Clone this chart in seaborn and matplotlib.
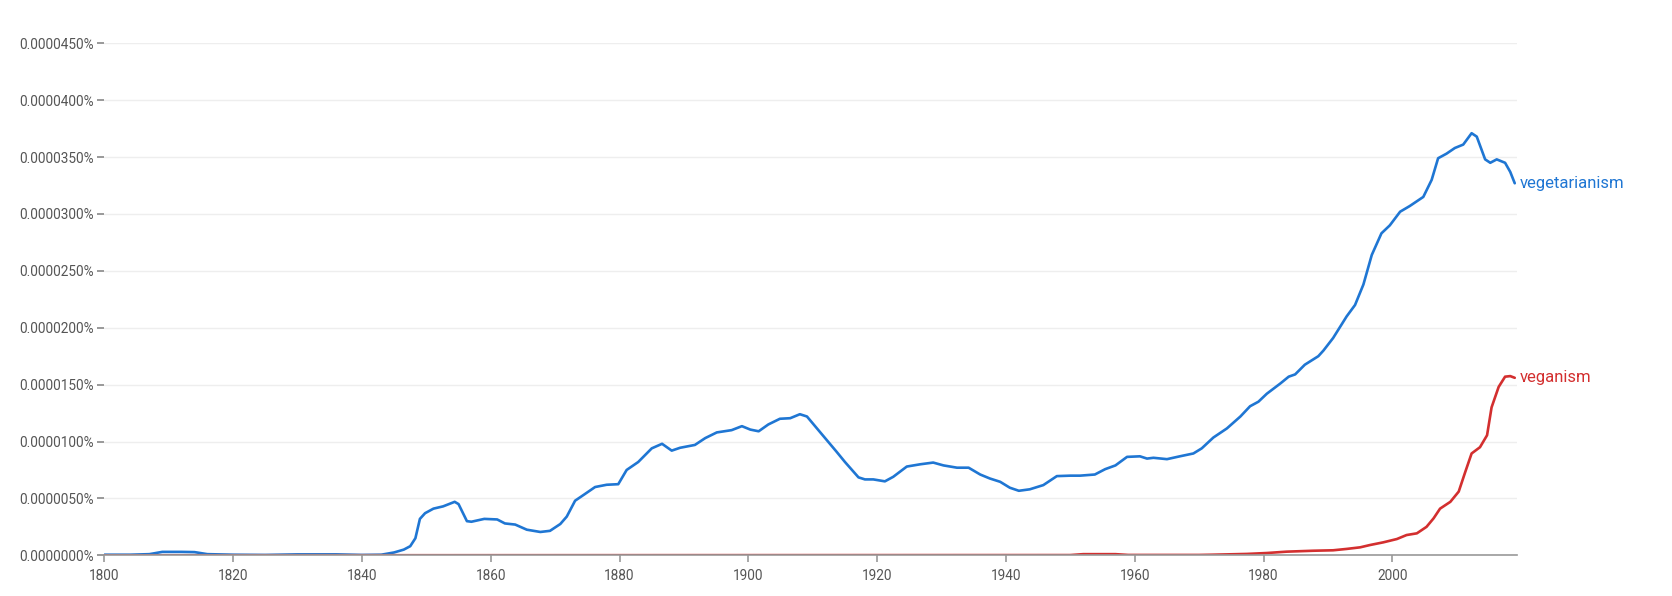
import numpy as np
import pandas as pd
import matplotlib
matplotlib.use("Agg")
from matplotlib import pyplot as plt
from matplotlib.ticker import FuncFormatter, MultipleLocator
import seaborn as sns

# values, in units of 1e-6 percent
veg_years = [1800, 1804, 1807, 1809, 1812, 1814, 1816, 1820, 1825, 1830, 1836, 1840,
             1843, 1845, 1846.5, 1847.5, 1848.3, 1849, 1849.8, 1851.1, 1852.6, 1854.4,
             1855, 1856.3, 1857, 1859, 1861, 1862.2, 1863.8, 1865.6, 1867.7, 1869.2,
             1870.8, 1871.8, 1873.1, 1874.4, 1876.2, 1878, 1879.8, 1881.1, 1882.9, 1885,
             1886.6, 1888.1, 1889.4, 1891.7, 1893.3, 1895.1, 1897.4, 1899, 1900.3, 1901.6,
             1903.1, 1904.9, 1906.5, 1908, 1909.1, 1911.1, 1913.7, 1915, 1917.1, 1918.1,
             1919.4, 1921.2, 1922.5, 1924.6, 1926.7, 1928.7, 1930.3, 1932.4, 1934.2, 1936,
             1937.5, 1939.1, 1940.6, 1942, 1943.7, 1945.8, 1947.9, 1950, 1951.5, 1953.8,
             1955.4, 1957, 1958.8, 1960.8, 1961.9, 1962.9, 1965, 1967, 1969.1, 1970.4,
             1972.2, 1974.3, 1976.4, 1977.9, 1979.2, 1980.5, 1982.6, 1983.9, 1984.9, 1986.4,
             1988.5, 1989.3, 1990.8, 1992.9, 1994.2, 1995.5, 1996.8, 1998.3, 1999.6, 2001.2,
             2002.7, 2004.8, 2006.1, 2007.1, 2008.4, 2009.7, 2011, 2012.3, 2013.1, 2014.4,
             2015.2, 2016.2, 2017.5, 2018.3, 2019]
veg_values = [0.05, 0.05, 0.1, 0.3, 0.3, 0.28, 0.1, 0.05, 0.03, 0.08, 0.08, 0.03,
              0.05, 0.25, 0.5, 0.8, 1.5, 3.2, 3.7, 4.1, 4.3, 4.7,
              4.5, 3.0, 2.95, 3.2, 3.15, 2.8, 2.7, 2.25, 2.05, 2.15,
              2.75, 3.4, 4.8, 5.3, 6.0, 6.2, 6.25, 7.5, 8.2, 9.4,
              9.8, 9.2, 9.45, 9.7, 10.3, 10.8, 11.0, 11.35, 11.05, 10.9,
              11.5, 12.0, 12.05, 12.4, 12.2, 10.85, 9.1, 8.2, 6.85, 6.67,
              6.67, 6.5, 6.9, 7.8, 8.0, 8.15, 7.9, 7.7, 7.7, 7.1,
              6.75, 6.46, 5.94, 5.67, 5.8, 6.17, 6.96, 7.0, 7.0, 7.1,
              7.57, 7.9, 8.65, 8.7, 8.5, 8.57, 8.45, 8.7, 8.95, 9.4,
              10.35, 11.15, 12.2, 13.1, 13.5, 14.2, 15.1, 15.7, 15.9, 16.75,
              17.5, 18.0, 19.1, 21.0, 22.0, 23.8, 26.4, 28.3, 29.0, 30.2,
              30.7, 31.5, 33.0, 34.9, 35.3, 35.8, 36.1, 37.1, 36.8, 34.8,
              34.5, 34.8, 34.5, 33.7, 32.7]

vegan_years = [1800, 1950, 1952, 1957, 1959, 1970, 1972, 1977.4, 1980.5, 1983.6, 1987.7,
               1990.8, 1992.9, 1995, 1996.5, 1998.6, 2000.7, 2002.2, 2003.8, 2005.3,
               2006.4, 2007.4, 2009, 2010.3, 2011.3, 2012.3, 2013.6, 2014.7, 2015.4,
               2016.5, 2017.5, 2018.3, 2019]
vegan_values = [0, 0.02, 0.1, 0.1, 0.03, 0.03, 0.05, 0.12, 0.2, 0.32, 0.4,
                0.44, 0.56, 0.7, 0.9, 1.14, 1.43, 1.78, 1.93, 2.5,
                3.25, 4.1, 4.7, 5.6, 7.3, 8.95, 9.5, 10.55, 13.0,
                14.8, 15.7, 15.75, 15.6]

x_ticks = [1800, 1820, 1840, 1860, 1880, 1900, 1920, 1940, 1960, 1980, 2000]
series = [("vegetarianism", veg_years, veg_values, "#1f76d3"),
          ("veganism", vegan_years, vegan_values, "#d32f2f")]

sns.set_theme(style="white")
plt.rcParams['font.family'] = ['Roboto', 'DejaVu Sans']

fig = plt.figure(figsize=(16.72, 5.96), dpi=100)
ax = fig.add_axes([0.0624, 0.0683, 0.9073 - 0.0624, 0.9273 - 0.0683])

for name, yrs, vals, col in series:
    df = pd.DataFrame({"year": yrs, "pct": np.array(vals) * 1e-6})
    sns.lineplot(data=df, x="year", y="pct", color=col, linewidth=1.9, ax=ax,
                 solid_joinstyle="round", solid_capstyle="round")
    ax.text(yrs[-1] + 0.7, df["pct"].iloc[-1], name, color=col, fontsize=12,
            ha="left", va="center")

ax.set_xlim(1800, 2019.35)
ax.set_ylim(0, 45e-6)
ax.set_xticks(x_ticks)
ax.yaxis.set_major_locator(MultipleLocator(5e-6))
ax.yaxis.set_major_formatter(FuncFormatter(lambda v, p: f"{v:.7f}%"))
ax.set_xlabel("")
ax.set_ylabel("")

ax.grid(axis="y", color="#eeeeee", linewidth=1)
ax.grid(axis="x", visible=False)
for s in ["top", "right", "left"]:
    ax.spines[s].set_visible(False)
ax.spines["bottom"].set_color("#999999")
ax.spines["bottom"].set_linewidth(1.2)
ax.tick_params(axis="y", which="major", left=True, length=5, width=1.2,
               color="#888888", labelcolor="#555555", labelsize=9.8, pad=2.5)
ax.tick_params(axis="x", which="major", bottom=True, length=5, width=1.2,
               color="#999999", labelcolor="#555555", labelsize=9.8, pad=5)

fig.savefig("out.png", dpi=100)
